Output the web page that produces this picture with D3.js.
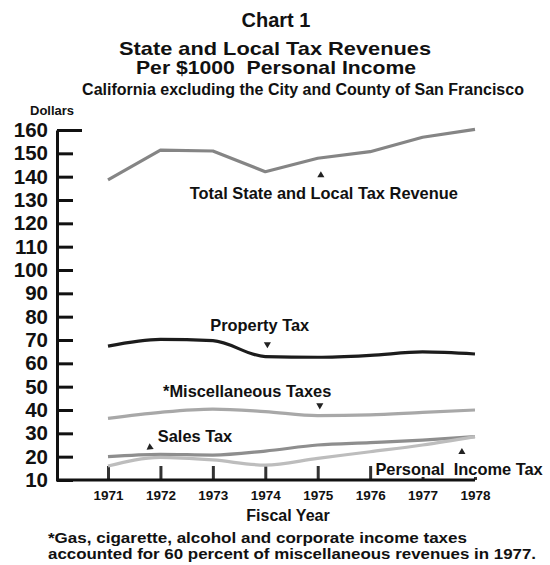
<!DOCTYPE html>
<html>
<head>
<meta charset="utf-8">
<script src="https://cdn.jsdelivr.net/npm/d3@7"></script>
<style>
  body { margin: 0; background: #fff; }
  text { font-family: "Liberation Sans", Arial, sans-serif; fill: #111; }
</style>
</head>
<body>
<svg id="chart" width="550" height="565"></svg>
<script>
// tax revenue chart, dollars per $1000 personal income

var years = [1971, 1972, 1973, 1974, 1975, 1976, 1977, 1978];
var yTicks = [10, 20, 30, 40, 50, 60, 70, 80, 90, 100, 110, 120, 130, 140, 150, 160];

var totalTax    = [138.6, 151.4, 151.0, 142.1, 147.9, 150.7, 156.9, 160.3];
var propertyTax = [67.4, 70.3, 69.7, 62.9, 62.6, 63.4, 64.9, 64.0];
var miscTax     = [36.4, 39.0, 40.4, 39.3, 37.6, 37.9, 39.0, 40.0];
var salesTax    = [20.0, 21.0, 20.7, 22.4, 25.0, 26.0, 27.1, 28.6];
var incomeTax   = [16.0, 19.7, 18.6, 16.4, 19.3, 22.1, 25.0, 28.6];

var series = [
  {name: "total", values: totalTax, color: "#858585", curve: d3.curveLinear},
  {name: "property", values: propertyTax, color: "#1c1c1c", curve: d3.curveMonotoneX},
  {name: "misc", values: miscTax, color: "#a8a8a8", curve: d3.curveMonotoneX},
  {name: "sales", values: salesTax, color: "#8e8e8e", curve: d3.curveMonotoneX},
  {name: "income", values: incomeTax, color: "#bdbdbd", curve: d3.curveMonotoneX}
];

var svg = d3.select("#chart");

var x = d3.scaleLinear().domain([1971, 1978]).range([108, 475]);
var y = d3.scaleLinear().domain([10, 160]).range([480, 130]);

// titles
svg.append("text").attr("x", 276).attr("y", 27).attr("text-anchor", "middle")
  .attr("font-size", 20).attr("font-weight", "bold").text("Chart 1");
svg.append("text").attr("x", 275).attr("y", 55).attr("text-anchor", "middle")
  .attr("font-size", 19).attr("font-weight", "bold")
  .attr("textLength", 312).attr("lengthAdjust", "spacingAndGlyphs")
  .text("State and Local Tax Revenues");
svg.append("text").attr("x", 276).attr("y", 74).attr("text-anchor", "middle")
  .attr("font-size", 19).attr("font-weight", "bold").attr("xml:space", "preserve")
  .attr("textLength", 280).attr("lengthAdjust", "spacingAndGlyphs")
  .text("Per $1000  Personal Income");
svg.append("text").attr("x", 303).attr("y", 95).attr("text-anchor", "middle")
  .attr("font-size", 16).attr("font-weight", "bold")
  .text("California excluding the City and County of San Francisco");
svg.append("text").attr("x", 30).attr("y", 115)
  .attr("font-size", 13).attr("font-weight", "bold").text("Dollars");

// y axis
var yAxis = svg.append("g")
  .attr("transform", "translate(57,0)")
  .call(d3.axisLeft(y).tickValues(yTicks).tickSize(-16).tickSizeOuter(0).tickPadding(9));
yAxis.select(".domain").attr("stroke", "#111").attr("stroke-width", 3);
yAxis.selectAll(".tick line").attr("stroke", "#111").attr("stroke-width", 3)
  .attr("x2", function(d) { return d == 160 ? 25 : 16; });
yAxis.selectAll(".tick text")
  .attr("font-size", 20.5).attr("font-weight", "bold")
  .attr("font-family", "Liberation Sans, Arial, sans-serif").attr("fill", "#111");

// x axis
var xAxis = svg.append("g")
  .attr("transform", "translate(0,480)")
  .call(d3.axisBottom(x).tickValues(years).tickFormat(d3.format("d")).tickSize(-14).tickSizeOuter(0).tickPadding(10));
xAxis.select(".domain").remove();
xAxis.selectAll(".tick line").attr("stroke", "#333").attr("stroke-width", 3)
  .attr("y2", function(d) { return d >= 1977 ? -3 : -14; });
xAxis.selectAll(".tick text")
  .attr("font-size", 13.5).attr("font-weight", "bold")
  .attr("font-family", "Liberation Sans, Arial, sans-serif").attr("fill", "#111");
svg.append("line")
  .attr("x1", 56).attr("x2", x(1978)).attr("y1", y(10)).attr("y2", y(10))
  .attr("stroke", "#111").attr("stroke-width", 3);

svg.append("text").attr("x", 288).attr("y", 521).attr("text-anchor", "middle")
  .attr("font-size", 16).attr("font-weight", "bold").text("Fiscal Year");

// lines
series.forEach(function(s) {
  var line = d3.line()
    .x(function(d, i) { return x(years[i]); })
    .y(function(d) { return y(d); })
    .curve(s.curve);
  svg.append("path")
    .datum(s.values)
    .attr("d", line)
    .attr("fill", "none")
    .attr("stroke", s.color)
    .attr("stroke-width", 3.2)
    .attr("stroke-linejoin", "round");
});

// labels with little arrowheads
var labels = [
  {text: "Total State and Local Tax Revenue", year: 1972.56, value: 130.4, ay: 1975.06, av: 140.6, rot: 0},
  {text: "Property Tax", year: 1972.95, value: 74.0, ay: 1974.04, av: 68.2, rot: 180},
  {text: "*Miscellaneous Taxes", year: 1972.05, value: 45.7, ay: 1975.04, av: 42.0, rot: 180},
  {text: "Sales Tax", year: 1971.95, value: 26.4, ay: 1971.8, av: 24.0, rot: 235},
  {text: "Personal  Income Tax", year: 1976.1, value: 12.3, ay: 1977.75, av: 22.0, rot: 0}
];

svg.selectAll(".lbl").data(labels).enter().append("text")
  .attr("class", "lbl")
  .attr("x", function(d) { return x(d.year); })
  .attr("y", function(d) { return y(d.value); })
  .attr("font-size", 16.4).attr("font-weight", "bold")
  .attr("xml:space", "preserve")
  .text(function(d) { return d.text; });

svg.selectAll(".arrow").data(labels).enter().append("path")
  .attr("class", "arrow")
  .attr("d", d3.symbol().type(d3.symbolTriangle).size(22))
  .attr("fill", "#222")
  .attr("transform", function(d) {
    return "translate(" + x(d.ay) + "," + y(d.av) + ") rotate(" + d.rot + ")";
  });

// footnote
svg.append("text").attr("x", 48).attr("y", 543)
  .attr("font-size", 15).attr("font-weight", "bold")
  .attr("textLength", 419).attr("lengthAdjust", "spacingAndGlyphs")
  .text("*Gas, cigarette, alcohol and corporate income taxes");
svg.append("text").attr("x", 48).attr("y", 559)
  .attr("font-size", 15).attr("font-weight", "bold")
  .attr("textLength", 488).attr("lengthAdjust", "spacingAndGlyphs")
  .text("accounted for 60 percent of miscellaneous revenues in 1977.");
</script>
</body>
</html>
